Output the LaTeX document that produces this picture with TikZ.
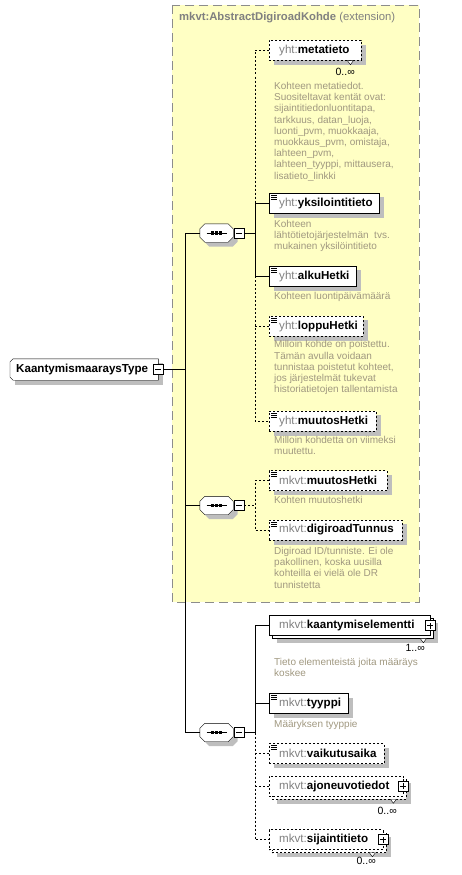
\documentclass[tikz,border=0pt]{standalone}
\usepackage{fontspec}
\setmainfont{Liberation Sans}
\usetikzlibrary{shadows}
\definecolor{extfill}{HTML}{FFFFC4}
\definecolor{extline}{HTML}{8C8C8C}
\definecolor{pfx}{HTML}{808080}
\definecolor{doctext}{HTML}{A09880}
\definecolor{shadowgray}{HTML}{BEBEBE}

\pgfdeclarelayer{extlayer}
\pgfdeclarelayer{shadelayer}
\pgfdeclarelayer{shapelayer}
\pgfsetlayers{extlayer,shadelayer,shapelayer,main}

\newcommand{\elemfont}{\fontsize{11.6}{13}\selectfont}
\newcommand{\docfont}{\fontsize{10}{11.2}\selectfont}
\newcommand{\nsname}[2]{\textcolor{pfx}{#1:}\textbf{#2}}
% gray shadow behind a node: #1 node, #2 offset
\newcommand{\shadowof}[2]{\fill[shadowgray] ([shift={(#2,-#2)}]#1.north west) rectangle ([shift={(#2,-#2)}]#1.south east);}
% octagon round a node: #1 node, #2 chamfer, #3 #4 shift
\newcommand{\octpath}[4]{([shift={(#3+#2,#4)}]#1.north west) -- ([shift={(#3-#2,#4)}]#1.north east)
  -- ([shift={(#3,#4-#2)}]#1.north east) -- ([shift={(#3,#4+#2)}]#1.south east)
  -- ([shift={(#3-#2,#4)}]#1.south east) -- ([shift={(#3+#2,#4)}]#1.south west)
  -- ([shift={(#3,#4+#2)}]#1.south west) -- ([shift={(#3,#4-#2)}]#1.north west) -- cycle}
\newcommand{\seqsymbol}[1]{%
  \draw ([xshift=-10pt]#1.center) -- ([xshift=10pt]#1.center);
  \foreach \dx in {-4,0,4}{
    \fill ([shift={(\dx*1pt-1.6pt,1.6pt)}]#1.center) rectangle ++(3.2,3.2);}}

\tikzset{
  opt/.style={dash pattern=on 2pt off 2pt},
  elem/.style={draw, fill=white, anchor=west, minimum height=20pt,
    inner xsep=10pt, inner ysep=0pt, text width=#1, align=left, font=\elemfont},
  manyelem/.style={elem=#1,
    copy shadow={shadow xshift=3pt,shadow yshift=-3pt,draw,fill=white}},
  simple/.style={path picture={
    \draw[solid,line width=0.8pt]
      ([xshift=2pt,yshift=-2pt]path picture bounding box.north west) -- ++(6,0)
      ([xshift=2pt,yshift=-4pt]path picture bounding box.north west) -- ++(6,0)
      ([xshift=2pt,yshift=-6pt]path picture bounding box.north west) -- ++(6,0);}},
  expander/.style={draw, solid, fill=white, minimum size=10pt, inner sep=0pt},
  minusbox/.style={expander, path picture={
    \draw ([xshift=2pt]path picture bounding box.west) -- ([xshift=-2pt]path picture bounding box.east);}},
  plusbox/.style={expander, path picture={
    \draw ([xshift=2pt]path picture bounding box.west) -- ([xshift=-2pt]path picture bounding box.east)
      ([yshift=2pt]path picture bounding box.south) -- ([yshift=-2pt]path picture bounding box.north);}},
  seq/.style={minimum width=33pt, minimum height=18pt, inner sep=0pt},
  rootbox/.style={anchor=west, minimum height=21pt, minimum width=148pt,
    inner xsep=6pt, inner ysep=0pt, text width=136pt, align=left, font=\elemfont},
  docnote/.style={anchor=north west, align=left, inner sep=0pt, text=doctext, font=\docfont},
  mult/.style={anchor=east, inner sep=0pt, font=\fontsize{10.5}{11}\selectfont},
  notch/.style={draw, solid, fill=white},
}

\begin{document}
\begin{tikzpicture}[x=1pt,y=-1pt,line width=1pt]
  \useasboundingbox (0,0) rectangle (462,875);

  % extension area
  \begin{pgfonlayer}{extlayer}
    \draw[extline, fill=extfill, dash pattern=on 9pt off 5pt] (172,5) rectangle (419,602);
  \end{pgfonlayer}
  \node[anchor=west, inner sep=0pt, text=pfx, font=\fontsize{11.3}{13}\selectfont]
    (title) at (179,18) {\textbf{mkvt:AbstractDigiroadKohde} (extension)};

  \path
  % root and compositors
  (10,369.5) node[rootbox] (root) {\textbf{KaantymismaaraysType}}
  (216.5,233) node[seq] (seq1) {}
  (216.5,505.5) node[seq] (seq2) {}
  (216.5,732.5) node[seq] (seq3) {}

  % first sequence
  (269,50.5) node[elem=72pt, opt] (meta) {\nsname{yht}{metatieto}}
  (269,203) node[elem=90pt, simple] (yksil) {\nsname{yht}{yksilointitieto}}
  (269,276) node[elem=67pt, simple] (alku) {\nsname{yht}{alkuHetki}}
  (269,326) node[elem=74pt, simple, opt] (loppu) {\nsname{yht}{loppuHetki}}
  (269,421) node[elem=87pt, simple, opt] (muutos) {\nsname{yht}{muutosHetki}}

  % second sequence
  (269,480.5) node[elem=98pt, simple, opt] (mmuutos) {\nsname{mkvt}{muutosHetki}}
  (269,530) node[elem=113pt, simple, opt] (tunnus) {\nsname{mkvt}{digiroadTunnus}}

  % third sequence
  (269,625.5) node[manyelem=141pt] (kaant) {\nsname{mkvt}{kaantymiselementti}}
  (269,703.5) node[elem=59pt, simple] (tyyppi) {\nsname{mkvt}{tyyppi}}
  (269,753.5) node[elem=95pt, simple, opt] (vaik) {\nsname{mkvt}{vaikutusaika}}
  (269,786) node[manyelem=114pt, opt] (ajon) {\nsname{mkvt}{ajoneuvotiedot}}
  (269,839.5) node[manyelem=94pt, opt] (sijain) {\nsname{mkvt}{sijaintitieto}}
  ;

  % outlines and shadows
  \begin{pgfonlayer}{shapelayer}
    \draw[fill=white] ([xshift=3pt]root.north west) -- (root.north east) -- (root.south east)
      -- ([xshift=3pt]root.south west) -- ([yshift=3pt]root.south west)
      -- ([yshift=-3pt]root.north west) -- cycle;
    \foreach \s in {seq1,seq2,seq3}{
      \draw[fill=white] \octpath{\s}{5pt}{0pt}{0pt};}
  \end{pgfonlayer}
  \begin{pgfonlayer}{shadelayer}
    \shadowof{root}{4.5pt}
    \foreach \s in {seq1,seq2,seq3}{
      \fill[shadowgray] \octpath{\s}{5pt}{4.5pt}{-4.5pt};}
    \foreach \e in {meta,yksil,alku,loppu,muutos,mmuutos,tunnus,tyyppi,vaik}{
      \shadowof{\e}{4.5pt}}
    \foreach \e in {kaant,ajon,sijain}{
      \shadowof{\e}{7.5pt}}
  \end{pgfonlayer}
  \seqsymbol{seq1}
  \seqsymbol{seq2}
  \seqsymbol{seq3}

  % expanders
  \node[minusbox] (rootx) at (root.east) {};
  \node[minusbox] (seq1x) at ([xshift=6pt]seq1.east) {};
  \node[minusbox] (seq2x) at ([xshift=6pt]seq2.east) {};
  \node[minusbox] (seq3x) at ([xshift=6pt]seq3.east) {};
  \node[plusbox] (kaantx) at (kaant.east) {};
  \node[plusbox] (ajonx) at (ajon.east) {};
  \node[plusbox] (sijainx) at (sijain.east) {};

  % occurrences
  \draw[notch] ([xshift=-14pt]meta.south east) -- ++(3,4) -- ++(3,-4) -- cycle;
  \draw[notch] ([xshift=-10pt,yshift=-3pt]kaant.south east) -- ++(3,4) -- ++(3,-4) -- cycle;
  \draw[notch] ([xshift=-13pt,yshift=-3pt]ajon.south east) -- ++(3,4) -- ++(3,-4) -- cycle;
  \draw[notch] ([xshift=-14pt,yshift=-3pt]sijain.south east) -- ++(3,4) -- ++(3,-4) -- cycle;
  \node[mult] (metam) at (355,72) {0..∞};
  \node[mult] (kaantm) at (425,648) {1..∞};
  \node[mult] (ajonm) at (397,811) {0..∞};
  \node[mult] (sijainm) at (376,861) {0..∞};

  % documentation
  \node[docnote] (metad) at (274,82) {Kohteen metatiedot.\\Suositeltavat kentät ovat:\\sijaintitiedonluontitapa,\\tarkkuus, datan\_luoja,\\luonti\_pvm, muokkaaja,\\muokkaus\_pvm, omistaja,\\lahteen\_pvm,\\lahteen\_tyyppi, mittausera,\\lisatieto\_linkki};
  \node[docnote] (yksild) at (274,220) {Kohteen\\lähtötietojärjestelmän\ \ tvs.\\mukainen yksilöintitieto};
  \node[docnote] (alkud) at (274,292) {Kohteen luontipäivämäärä};
  \node[docnote] (loppud) at (274,340.5) {Milloin kohde on poistettu.\\Tämän avulla voidaan\\tunnistaa poistetut kohteet,\\jos järjestelmät tukevat\\historiatietojen tallentamista};
  \node[docnote] (muutosd) at (274,436) {Milloin kohdetta on viimeksi\\muutettu.};
  \node[docnote] (mmuutosd) at (274,496) {Kohten muutoshetki};
  \node[docnote] (tunnusd) at (274,547) {Digiroad ID/tunniste. Ei ole\\pakollinen, koska uusilla\\kohteilla ei vielä ole DR\\tunnistetta};
  \node[docnote] (kaantd) at (274,658) {Tieto elementeistä joita määräys\\koskee};
  \node[docnote] (tyyppid) at (274,720) {Määryksen tyyppie};

  % connectors
  \coordinate (trunk) at (185,0);
  \coordinate (br) at (255,0);

  \draw (rootx.east) -- (rootx.east -| trunk);
  \draw (seq1.west) -- (seq1.west -| trunk) -- (seq3.west -| trunk) -- (seq3.west);
  \draw (seq2.west) -- (seq2.west -| trunk);

  \draw (seq1x.east) -- (seq1x.east -| br);
  \draw[opt] (meta.west) -- (meta.west -| br) -- (yksil.west -| br);
  \draw (yksil.west) -- (yksil.west -| br) -- (alku.west -| br) -- (alku.west);
  \draw[opt] (alku.west -| br) -- (muutos.west -| br) -- (muutos.west);
  \draw[opt] (loppu.west -| br) -- (loppu.west);

  \draw[opt] (seq2x.east) -- (seq2x.east -| br);
  \draw[opt] (mmuutos.west) -- (mmuutos.west -| br) -- (tunnus.west -| br) -- (tunnus.west);

  \draw (seq3x.east) -- (seq3x.east -| br);
  \draw (kaant.west) -- (kaant.west -| br) -- (seq3x.east -| br);
  \draw (tyyppi.west -| br) -- (tyyppi.west);
  \draw[opt] (seq3x.east -| br) -- (sijain.west -| br) -- (sijain.west);
  \draw[opt] (vaik.west -| br) -- (vaik.west);
  \draw[opt] (ajon.west -| br) -- (ajon.west);
\end{tikzpicture}
\end{document}
